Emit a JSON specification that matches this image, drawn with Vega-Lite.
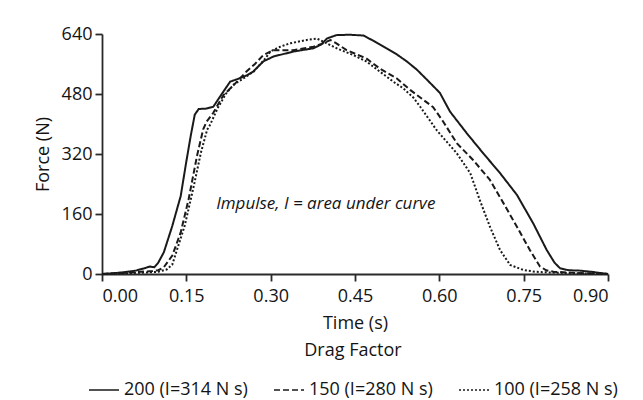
{
  "$schema": "https://vega.github.io/schema/vega-lite/v6.json",
  "width": 506,
  "height": 240,
  "autosize": {"type": "none"},
  "padding": {"left": 102, "top": 34, "right": 35, "bottom": 126},
  "background": "white",
  "config": {
    "view": {"stroke": null},
    "font": "Open Sans",
    "axis": {
      "grid": false,
      "domainColor": "#2a2a2a",
      "domainWidth": 1.8,
      "tickColor": "#2a2a2a",
      "tickWidth": 1.8,
      "tickSize": 7,
      "labelFontSize": 18,
      "labelColor": "#141414",
      "titleFontSize": 18,
      "titleFontWeight": "normal",
      "titleColor": "#141414",
      "labelFont": "Open Sans",
      "titleFont": "Open Sans"
    }
  },
  "layer": [
    {
      "data": {
        "values": [
          {"s": "200 (I=314 N s)", "t": 0, "f": 0},
          {"s": "200 (I=314 N s)", "t": 0.02, "f": 2},
          {"s": "200 (I=314 N s)", "t": 0.04, "f": 5},
          {"s": "200 (I=314 N s)", "t": 0.06, "f": 9},
          {"s": "200 (I=314 N s)", "t": 0.075, "f": 15},
          {"s": "200 (I=314 N s)", "t": 0.085, "f": 20},
          {"s": "200 (I=314 N s)", "t": 0.093, "f": 18},
          {"s": "200 (I=314 N s)", "t": 0.1, "f": 30},
          {"s": "200 (I=314 N s)", "t": 0.11, "f": 58},
          {"s": "200 (I=314 N s)", "t": 0.125, "f": 128},
          {"s": "200 (I=314 N s)", "t": 0.14, "f": 208},
          {"s": "200 (I=314 N s)", "t": 0.15, "f": 300},
          {"s": "200 (I=314 N s)", "t": 0.158, "f": 370},
          {"s": "200 (I=314 N s)", "t": 0.165, "f": 425},
          {"s": "200 (I=314 N s)", "t": 0.172, "f": 440},
          {"s": "200 (I=314 N s)", "t": 0.185, "f": 441},
          {"s": "200 (I=314 N s)", "t": 0.198, "f": 446},
          {"s": "200 (I=314 N s)", "t": 0.213, "f": 480},
          {"s": "200 (I=314 N s)", "t": 0.228, "f": 513},
          {"s": "200 (I=314 N s)", "t": 0.245, "f": 522},
          {"s": "200 (I=314 N s)", "t": 0.258, "f": 530},
          {"s": "200 (I=314 N s)", "t": 0.269, "f": 540},
          {"s": "200 (I=314 N s)", "t": 0.287, "f": 567},
          {"s": "200 (I=314 N s)", "t": 0.305, "f": 580},
          {"s": "200 (I=314 N s)", "t": 0.34, "f": 593},
          {"s": "200 (I=314 N s)", "t": 0.376, "f": 602},
          {"s": "200 (I=314 N s)", "t": 0.39, "f": 612},
          {"s": "200 (I=314 N s)", "t": 0.4, "f": 628},
          {"s": "200 (I=314 N s)", "t": 0.417, "f": 637},
          {"s": "200 (I=314 N s)", "t": 0.44, "f": 638},
          {"s": "200 (I=314 N s)", "t": 0.465, "f": 636},
          {"s": "200 (I=314 N s)", "t": 0.485, "f": 620},
          {"s": "200 (I=314 N s)", "t": 0.506, "f": 602},
          {"s": "200 (I=314 N s)", "t": 0.525, "f": 585},
          {"s": "200 (I=314 N s)", "t": 0.542, "f": 567},
          {"s": "200 (I=314 N s)", "t": 0.56, "f": 545},
          {"s": "200 (I=314 N s)", "t": 0.58, "f": 515},
          {"s": "200 (I=314 N s)", "t": 0.601, "f": 483},
          {"s": "200 (I=314 N s)", "t": 0.619, "f": 433},
          {"s": "200 (I=314 N s)", "t": 0.649, "f": 375},
          {"s": "200 (I=314 N s)", "t": 0.678, "f": 322},
          {"s": "200 (I=314 N s)", "t": 0.708, "f": 269},
          {"s": "200 (I=314 N s)", "t": 0.738, "f": 211},
          {"s": "200 (I=314 N s)", "t": 0.767, "f": 135},
          {"s": "200 (I=314 N s)", "t": 0.791, "f": 64},
          {"s": "200 (I=314 N s)", "t": 0.805, "f": 30},
          {"s": "200 (I=314 N s)", "t": 0.815, "f": 15},
          {"s": "200 (I=314 N s)", "t": 0.83, "f": 10},
          {"s": "200 (I=314 N s)", "t": 0.85, "f": 9},
          {"s": "200 (I=314 N s)", "t": 0.87, "f": 6},
          {"s": "200 (I=314 N s)", "t": 0.885, "f": 3},
          {"s": "200 (I=314 N s)", "t": 0.9, "f": 0},

          {"s": "150 (I=280 N s)", "t": 0, "f": 0},
          {"s": "150 (I=280 N s)", "t": 0.03, "f": 2},
          {"s": "150 (I=280 N s)", "t": 0.06, "f": 5},
          {"s": "150 (I=280 N s)", "t": 0.09, "f": 8},
          {"s": "150 (I=280 N s)", "t": 0.1, "f": 10},
          {"s": "150 (I=280 N s)", "t": 0.11, "f": 18},
          {"s": "150 (I=280 N s)", "t": 0.125, "f": 49},
          {"s": "150 (I=280 N s)", "t": 0.14, "f": 111},
          {"s": "150 (I=280 N s)", "t": 0.154, "f": 199},
          {"s": "150 (I=280 N s)", "t": 0.169, "f": 315},
          {"s": "150 (I=280 N s)", "t": 0.18, "f": 386},
          {"s": "150 (I=280 N s)", "t": 0.186, "f": 406},
          {"s": "150 (I=280 N s)", "t": 0.198, "f": 430},
          {"s": "150 (I=280 N s)", "t": 0.216, "f": 477},
          {"s": "150 (I=280 N s)", "t": 0.235, "f": 505},
          {"s": "150 (I=280 N s)", "t": 0.257, "f": 540},
          {"s": "150 (I=280 N s)", "t": 0.272, "f": 560},
          {"s": "150 (I=280 N s)", "t": 0.287, "f": 584},
          {"s": "150 (I=280 N s)", "t": 0.305, "f": 597},
          {"s": "150 (I=280 N s)", "t": 0.34, "f": 597},
          {"s": "150 (I=280 N s)", "t": 0.376, "f": 606},
          {"s": "150 (I=280 N s)", "t": 0.393, "f": 615},
          {"s": "150 (I=280 N s)", "t": 0.406, "f": 624},
          {"s": "150 (I=280 N s)", "t": 0.417, "f": 615},
          {"s": "150 (I=280 N s)", "t": 0.435, "f": 597},
          {"s": "150 (I=280 N s)", "t": 0.47, "f": 575},
          {"s": "150 (I=280 N s)", "t": 0.494, "f": 548},
          {"s": "150 (I=280 N s)", "t": 0.524, "f": 522},
          {"s": "150 (I=280 N s)", "t": 0.548, "f": 491},
          {"s": "150 (I=280 N s)", "t": 0.572, "f": 464},
          {"s": "150 (I=280 N s)", "t": 0.589, "f": 445},
          {"s": "150 (I=280 N s)", "t": 0.607, "f": 406},
          {"s": "150 (I=280 N s)", "t": 0.631, "f": 349},
          {"s": "150 (I=280 N s)", "t": 0.66, "f": 304},
          {"s": "150 (I=280 N s)", "t": 0.69, "f": 251},
          {"s": "150 (I=280 N s)", "t": 0.714, "f": 189},
          {"s": "150 (I=280 N s)", "t": 0.738, "f": 126},
          {"s": "150 (I=280 N s)", "t": 0.761, "f": 64},
          {"s": "150 (I=280 N s)", "t": 0.779, "f": 20},
          {"s": "150 (I=280 N s)", "t": 0.79, "f": 10},
          {"s": "150 (I=280 N s)", "t": 0.803, "f": 6},
          {"s": "150 (I=280 N s)", "t": 0.84, "f": 3},
          {"s": "150 (I=280 N s)", "t": 0.886, "f": 1},
          {"s": "150 (I=280 N s)", "t": 0.9, "f": 0},

          {"s": "100 (I=258 N s)", "t": 0, "f": 0},
          {"s": "100 (I=258 N s)", "t": 0.04, "f": 2},
          {"s": "100 (I=258 N s)", "t": 0.08, "f": 4},
          {"s": "100 (I=258 N s)", "t": 0.1, "f": 6},
          {"s": "100 (I=258 N s)", "t": 0.115, "f": 12},
          {"s": "100 (I=258 N s)", "t": 0.125, "f": 25},
          {"s": "100 (I=258 N s)", "t": 0.132, "f": 58},
          {"s": "100 (I=258 N s)", "t": 0.147, "f": 128},
          {"s": "100 (I=258 N s)", "t": 0.162, "f": 226},
          {"s": "100 (I=258 N s)", "t": 0.176, "f": 324},
          {"s": "100 (I=258 N s)", "t": 0.187, "f": 385},
          {"s": "100 (I=258 N s)", "t": 0.192, "f": 397},
          {"s": "100 (I=258 N s)", "t": 0.205, "f": 440},
          {"s": "100 (I=258 N s)", "t": 0.22, "f": 480},
          {"s": "100 (I=258 N s)", "t": 0.234, "f": 505},
          {"s": "100 (I=258 N s)", "t": 0.249, "f": 519},
          {"s": "100 (I=258 N s)", "t": 0.27, "f": 540},
          {"s": "100 (I=258 N s)", "t": 0.289, "f": 572},
          {"s": "100 (I=258 N s)", "t": 0.3, "f": 594},
          {"s": "100 (I=258 N s)", "t": 0.317, "f": 606},
          {"s": "100 (I=258 N s)", "t": 0.334, "f": 615},
          {"s": "100 (I=258 N s)", "t": 0.364, "f": 624},
          {"s": "100 (I=258 N s)", "t": 0.382, "f": 628},
          {"s": "100 (I=258 N s)", "t": 0.4, "f": 615},
          {"s": "100 (I=258 N s)", "t": 0.42, "f": 600},
          {"s": "100 (I=258 N s)", "t": 0.447, "f": 584},
          {"s": "100 (I=258 N s)", "t": 0.47, "f": 567},
          {"s": "100 (I=258 N s)", "t": 0.494, "f": 540},
          {"s": "100 (I=258 N s)", "t": 0.518, "f": 513},
          {"s": "100 (I=258 N s)", "t": 0.536, "f": 495},
          {"s": "100 (I=258 N s)", "t": 0.554, "f": 470},
          {"s": "100 (I=258 N s)", "t": 0.566, "f": 446},
          {"s": "100 (I=258 N s)", "t": 0.595, "f": 384},
          {"s": "100 (I=258 N s)", "t": 0.631, "f": 322},
          {"s": "100 (I=258 N s)", "t": 0.655, "f": 269},
          {"s": "100 (I=258 N s)", "t": 0.672, "f": 197},
          {"s": "100 (I=258 N s)", "t": 0.69, "f": 126},
          {"s": "100 (I=258 N s)", "t": 0.708, "f": 64},
          {"s": "100 (I=258 N s)", "t": 0.726, "f": 24},
          {"s": "100 (I=258 N s)", "t": 0.749, "f": 11},
          {"s": "100 (I=258 N s)", "t": 0.77, "f": 6},
          {"s": "100 (I=258 N s)", "t": 0.797, "f": 4},
          {"s": "100 (I=258 N s)", "t": 0.84, "f": 2},
          {"s": "100 (I=258 N s)", "t": 0.886, "f": 1},
          {"s": "100 (I=258 N s)", "t": 0.9, "f": 0}
        ]
      },
      "mark": {"type": "line", "strokeWidth": 2, "color": "#1a1a1a"},
      "encoding": {
        "x": {
          "field": "t", "type": "quantitative",
          "scale": {"domain": [0, 0.9], "nice": false, "zero": false},
          "axis": {"values": [0, 0.15, 0.3, 0.45, 0.6, 0.75, 0.9], "format": ".2f", "title": "Time (s)", "labelPadding": 6, "titlePadding": 9}
        },
        "y": {
          "field": "f", "type": "quantitative",
          "scale": {"domain": [0, 640], "nice": false},
          "axis": {"values": [0, 160, 320, 480, 640], "title": "Force (N)", "labelPadding": 3, "titlePadding": 9}
        },
        "strokeDash": {
          "field": "s", "type": "nominal",
          "scale": {
            "domain": ["200 (I=314 N s)", "150 (I=280 N s)", "100 (I=258 N s)"],
            "range": [[1, 0], [6, 3], [2, 2]]
          },
          "legend": {
            "title": "Drag Factor",
            "orient": "none",
            "direction": "horizontal",
            "legendX": -14,
            "legendY": 308,
            "titleAnchor": "middle",
            "titleFontSize": 18,
            "titleFontWeight": "normal",
            "titleColor": "#141414",
            "titlePadding": 14,
            "labelFontSize": 18,
            "labelColor": "#141414",
            "labelOffset": 4,
            "symbolType": "stroke",
            "symbolSize": 900,
            "symbolStrokeWidth": 1.6,
            "symbolStrokeColor": "#1a1a1a",
            "columnPadding": 22
          }
        }
      }
    },
    {
      "data": {"values": [{"t": 0.398, "f": 187, "label": "Impulse, I = area under curve"}]},
      "mark": {"type": "text", "fontStyle": "italic", "fontSize": 17, "color": "#141414", "font": "Open Sans"},
      "encoding": {
        "x": {"field": "t", "type": "quantitative"},
        "y": {"field": "f", "type": "quantitative"},
        "text": {"field": "label"}
      }
    }
  ]
}
